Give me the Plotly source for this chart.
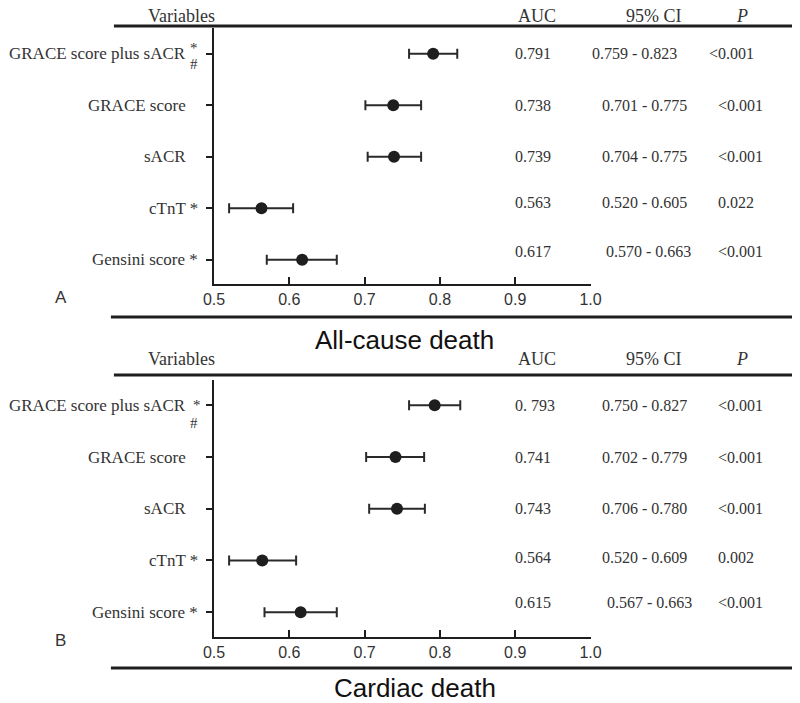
import plotly.graph_objects as go

# rows top to bottom
variables = ['GRACE score plus sACR', 'GRACE score', 'sACR', 'cTnT *', 'Gensini score *']
row_pos = [5, 4, 3, 2, 1]

# panel A - all-cause death
auc_a = [0.791, 0.738, 0.739, 0.563, 0.617]
lo_a = [0.759, 0.701, 0.704, 0.520, 0.570]
hi_a = [0.823, 0.775, 0.775, 0.605, 0.663]
auc_txt_a = ['0.791', '0.738', '0.739', '0.563', '0.617']
ci_txt_a = ['0.759 - 0.823', '0.701 - 0.775', '0.704 - 0.775', '0.520 - 0.605', '0.570 - 0.663']
p_txt_a = ['<0.001', '<0.001', '<0.001', '0.022', '<0.001']

# panel B - cardiac death
auc_b = [0.793, 0.741, 0.743, 0.564, 0.615]
lo_b = [0.759, 0.702, 0.706, 0.520, 0.567]
hi_b = [0.827, 0.779, 0.780, 0.609, 0.663]
auc_txt_b = ['0. 793', '0.741', '0.743', '0.564', '0.615']
ci_txt_b = ['0.750 - 0.827', '0.702 - 0.779', '0.706 - 0.780', '0.520 - 0.609', '0.567 - 0.663']
p_txt_b = ['<0.001', '<0.001', '<0.001', '0.002', '<0.001']

xticks = [0.5, 0.6, 0.7, 0.8, 0.9, 1.0]
xtick_labels = ['0.5', '0.6', '0.7', '0.8', '0.9', '1.0']

W, H = 800, 703
SERIF = 'Liberation Serif, Times New Roman, serif'
SANS = 'Liberation Sans, Arial, sans-serif'
INK = '#1e1e1e'

# screen pixel -> paper fraction (page offsets measured from a first render)
X0, XW = 18.2, 777.0
Y0, YH = 8.0, 703.0


def px(x):
    return (x - X0) / XW


def py(y):
    return 1 - (y - Y0) / YH


fig = go.Figure()

for auc, lo, hi, xa, ya in [(auc_a, lo_a, hi_a, 'x', 'y'), (auc_b, lo_b, hi_b, 'x2', 'y2')]:
    fig.add_trace(go.Scatter(
        x=auc, y=row_pos, mode='markers', xaxis=xa, yaxis=ya,
        marker=dict(size=12, color=INK),
        error_x=dict(type='data', symmetric=False,
                     array=[h - a for h, a in zip(hi, auc)],
                     arrayminus=[a - l for a, l in zip(auc, lo)],
                     color='#2a2a2a', thickness=2, width=5),
        showlegend=False, hoverinfo='skip'))

xaxis_style = dict(range=[0.5, 1.0], domain=[px(213), px(589)], showline=True, linewidth=2,
                   linecolor=INK, ticks='inside', ticklen=7, tickwidth=2, tickcolor=INK,
                   tickvals=xticks, ticktext=xtick_labels, showgrid=False, zeroline=False,
                   tickfont=dict(family=SANS, size=16, color='#333'))
yaxis_style = dict(showline=True, linewidth=2, linecolor=INK, ticks='outside', ticklen=6,
                   tickwidth=2, tickcolor=INK, tickvals=row_pos, showticklabels=False,
                   showgrid=False, zeroline=False)

fig.update_layout(
    width=W, height=H, margin=dict(l=0, r=0, t=0, b=0),
    plot_bgcolor='rgba(0,0,0,0)', paper_bgcolor='white',
    xaxis=dict(anchor='y', **xaxis_style),
    xaxis2=dict(anchor='y2', **xaxis_style),
    yaxis=dict(anchor='x', range=[0.53, 5.5], domain=[py(284), py(28)], **yaxis_style),
    yaxis2=dict(anchor='x2', range=[0.52, 5.49], domain=[py(637), py(380)], **yaxis_style),
)

ann = []
shapes = []


def txt(text, x, y, yref, xanchor='center', size=16, family=SERIF, yshift=0, color='#333'):
    ann.append(dict(text=text, x=x, y=y, xref='paper', yref=yref, xanchor=xanchor,
                    yanchor='middle', showarrow=False, yshift=yshift,
                    font=dict(family=family, size=size, color=color)))


def rule(x0, x1, y):
    # thin filled band, 3 px tall
    shapes.append(dict(type='rect', xref='paper', yref='paper', layer='above',
                       x0=px(x0), x1=px(x1), y0=py(y + 1.5), y1=py(y - 1.5),
                       fillcolor=INK, line=dict(width=0)))


panels = [
    dict(yref='y', auc=auc_txt_a, ci=ci_txt_a, p=p_txt_a, head=16, rule1=26, rule2=317,
         letter='A', letter_y=297, title='All-cause death', title_x=403, title_y=340,
         shifts=[0, 0, 0, 6, 8], ci_dx=[-10, 0, 0, 0, 4], p_dx=[-9, 0, 0, 0, 0],
         star=(193, -6), hash=(193, 10)),
    dict(yref='y2', auc=auc_txt_b, ci=ci_txt_b, p=p_txt_b, head=359, rule1=375, rule2=668,
         letter='B', letter_y=640, title='Cardiac death', title_x=414, title_y=688,
         shifts=[0, 0, 0, 3, 10], ci_dx=[0, 0, 0, 0, 5], p_dx=[0, 0, 0, 0, 0],
         star=(196, 0), hash=(193, 18)),
]

for pn in panels:
    yr = pn['yref']
    # column headers
    txt('Variables', px(180), py(pn['head']), 'paper', size=18)
    txt('AUC', px(536), py(pn['head']), 'paper', size=18)
    txt('95% CI', px(652), py(pn['head']), 'paper', size=18)
    txt('<i>P</i>', px(740), py(pn['head']), 'paper', size=18)
    # rules under the header and under the panel
    rule(113, 792, pn['rule1'])
    rule(110, 800, pn['rule2'])
    txt(pn['letter'], px(60), py(pn['letter_y']), 'paper', size=17, family=SANS)
    txt(pn['title'], px(pn['title_x']), py(pn['title_y']), 'paper', size=26, family=SANS,
        color='#111')
    for i, (name, r) in enumerate(zip(variables, row_pos)):
        if i == 0:
            txt(name, px(187), r, yr, xanchor='right', size=17)
            txt('*', px(pn['star'][0]), r, yr, size=15, yshift=-pn['star'][1])
            txt('#', px(pn['hash'][0]), r, yr, size=15, yshift=-pn['hash'][1])
        elif i >= 3:
            txt(name, px(199), r, yr, xanchor='right', size=17)
        else:
            txt(name, px(187), r, yr, xanchor='right', size=17)
        sh = pn['shifts'][i]
        txt(pn['auc'][i], px(512), r, yr, xanchor='left', yshift=sh)
        txt(pn['ci'][i], px(598 + pn['ci_dx'][i]), r, yr, xanchor='left', yshift=sh)
        txt(pn['p'][i].replace('<', '&lt;'), px(714 + pn['p_dx'][i]), r, yr, xanchor='left',
            yshift=sh)

fig.update_layout(annotations=ann, shapes=shapes)

fig.write_html('out.html')
